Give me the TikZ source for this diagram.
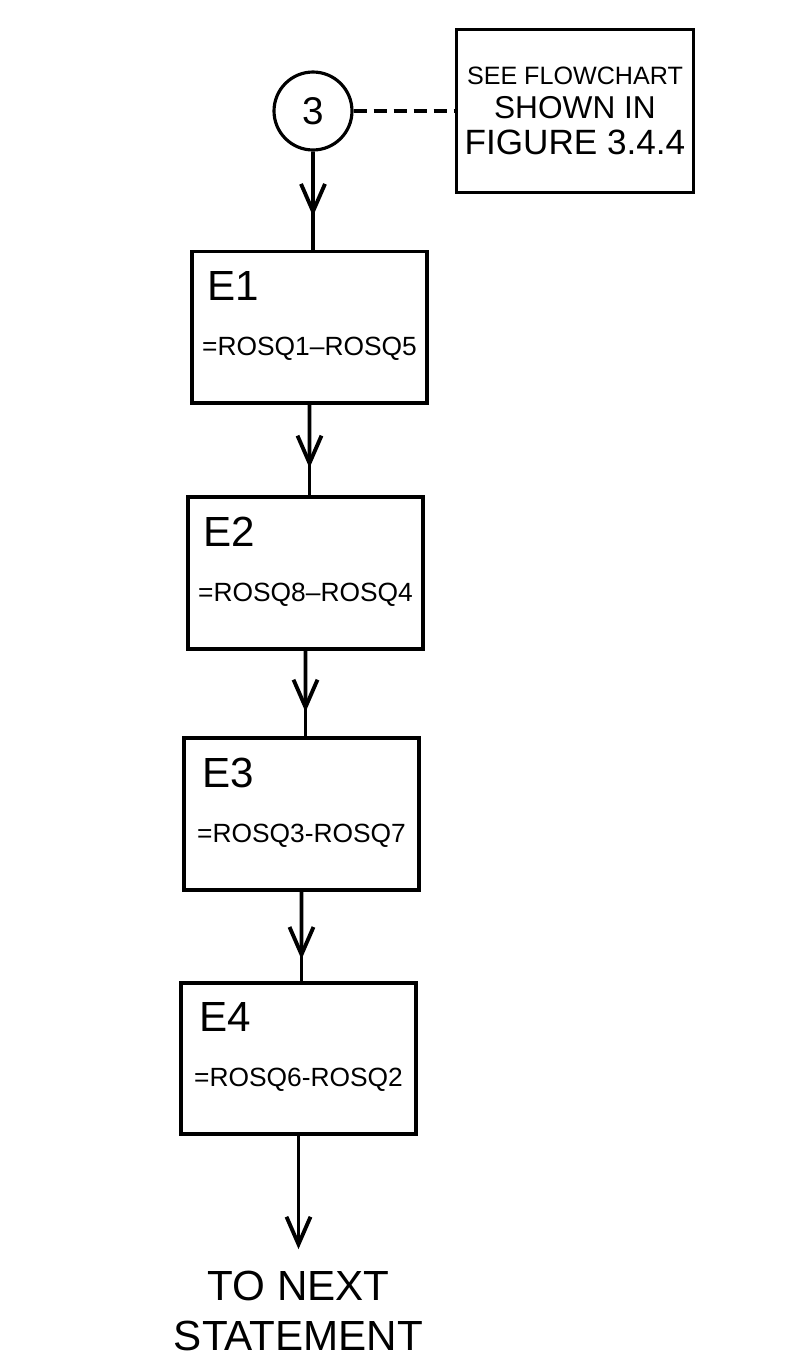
\documentclass[tikz,border=0pt]{standalone}
\usepackage{fontspec}
\setmainfont{Liberation Sans}
\usepackage{tikz}
\usetikzlibrary{arrows.meta, positioning, calc}

\begin{document}
\begin{tikzpicture}[
  x=0.02cm, y=-0.02cm,
  line width=2.2pt,
  %% box styles
  conn/.style={
    circle, draw, line width=1.8pt,
    minimum size=1.56cm, inner sep=0pt,
    font=\fontsize{22}{24}\selectfont},
  note/.style={
    rectangle, draw, line width=2.2pt,
    minimum width=4.74cm, minimum height=3.26cm,
    align=center, inner sep=2pt},
  ebox/.style={
    rectangle, draw, line width=2.2pt,
    minimum width=4.7cm, minimum height=3.0cm,
    align=left, inner xsep=0.12cm, inner ysep=0.4cm},
  endtxt/.style={align=center, inner sep=0.4cm, font=\fontsize{24}{28.5}\selectfont},
  arr/.style={-{Straight Barb[length=0.55cm, width=0.48cm]}, line width=2.2pt},
  lnk/.style={dash pattern=on 0.26cm off 0.14cm, line width=1.8pt}
]
\newcommand{\ehead}[1]{\hspace*{0.1cm}{\fontsize{24}{26}\selectfont #1}}
\newcommand{\eexpr}[1]{{\fontsize{15}{18}\selectfont #1}\rule[-0.55cm]{0pt}{0pt}}

\useasboundingbox (0,0) rectangle (809,1366);

%% ── Connector and note ──────────────────────────────────────────────────
\node[conn] (c3) at (313,111) {3};
\node[note, right=2.02cm of c3] (seefig) {%
  {\fontsize{14.3}{20}\selectfont SEE FLOWCHART}\\[0.2cm]
  {\fontsize{18}{20}\selectfont SHOWN IN}\\[0.2cm]
  {\fontsize{20}{20}\selectfont FIGURE 3.4.4}};

%% ── Assignment boxes ────────────────────────────────────────────────────
\node[ebox, below=1.96cm of c3, xshift=-0.07cm] (e1) {%
  \ehead{E1}\\[0.68cm]\eexpr{=ROSQ1--ROSQ5}};
\node[ebox, below=1.8cm of e1, xshift=-0.08cm] (e2) {%
  \ehead{E2}\\[0.68cm]\eexpr{=ROSQ8--ROSQ4}};
\node[ebox, below=1.7cm of e2, xshift=-0.08cm] (e3) {%
  \ehead{E3}\\[0.68cm]\eexpr{=ROSQ3-ROSQ7}};
\node[ebox, below=1.78cm of e3, xshift=-0.06cm] (e4) {%
  \ehead{E4}\\[0.68cm]\eexpr{=ROSQ6-ROSQ2}};

%% ── Exit ────────────────────────────────────────────────────────────────
\node[endtxt, below=2.26cm of e4] (next) {TO NEXT\\STATEMENT};

%% ──────────────────────── Arrows ─────────────────────────────────────────
\draw[lnk] (c3.east) -- (seefig.west);

\draw (c3.south) -- (c3.south |- e1.north);
\draw[arr] (c3.south) -- ($(c3.south)!0.66!(c3.south |- e1.north)$);
\draw (e1.south) -- (e1.south |- e2.north);
\draw[arr] (e1.south) -- ($(e1.south)!0.7!(e1.south |- e2.north)$);
\draw (e2.south) -- (e2.south |- e3.north);
\draw[arr] (e2.south) -- ($(e2.south)!0.72!(e2.south |- e3.north)$);
\draw (e3.south) -- (e3.south |- e4.north);
\draw[arr] (e3.south) -- ($(e3.south)!0.76!(e3.south |- e4.north)$);

\draw[arr] (e4.south) -- (e4.south |- next.north);

\end{tikzpicture}
\end{document}
